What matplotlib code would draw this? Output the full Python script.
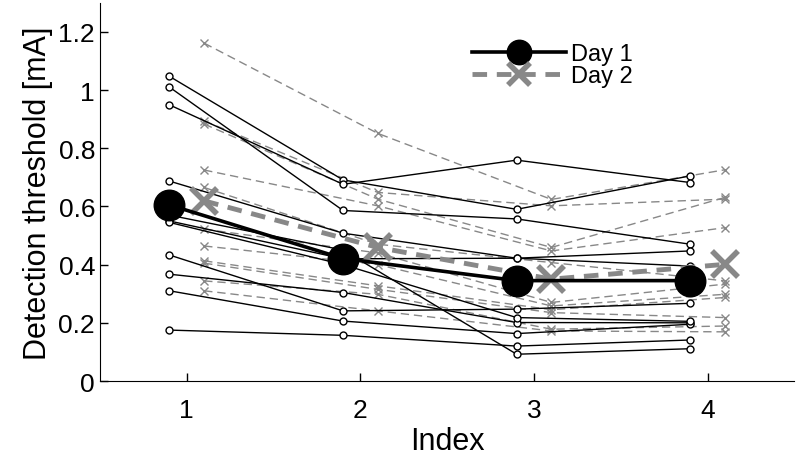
import numpy as np
import matplotlib
matplotlib.use("Agg")
import matplotlib.pyplot as plt

plt.rcParams['font.family'] = ['Liberation Sans', 'DejaVu Sans']

sessions = [1, 2, 3, 4]
tick_labels_y = ['0', '0.2', '0.4', '0.6', '0.8', '1', '1.2']
tick_values_y = [0, 0.2, 0.4, 0.6, 0.8, 1.0, 1.2]

# Day 1, one row per subject (values at sessions 1..4)
day1 = [
    [1.047, 0.691, 0.590, 0.705],
    [0.949, 0.676, 0.759, 0.682],
    [1.010, 0.586, 0.557, 0.470],
    [0.687, 0.508, 0.422, 0.447],
    [0.433, 0.241, 0.247, 0.267],
    [0.367, 0.304, 0.201, 0.200],
    [0.310, 0.206, 0.163, 0.195],
    [0.175, 0.157, 0.120, 0.141],
    [0.570, 0.450, 0.092, 0.111],
    [0.550, 0.420, 0.422, 0.395],
    [0.545, 0.400, 0.218, 0.205],
]

# Day 2, one row per subject
day2 = [
    [1.161, 0.851, 0.624, 0.726],
    [0.894, 0.648, 0.602, 0.625],
    [0.883, 0.625, 0.459, 0.631],
    [0.725, 0.602, 0.447, 0.527],
    [0.665, 0.470, 0.407, 0.344],
    [0.522, 0.440, 0.270, 0.333],
    [0.464, 0.400, 0.258, 0.298],
    [0.413, 0.327, 0.245, 0.287],
    [0.405, 0.315, 0.235, 0.218],
    [0.344, 0.298, 0.178, 0.189],
    [0.310, 0.241, 0.172, 0.169],
]

day1_mean = [0.605, 0.421, 0.345, 0.345]
day2_mean = [0.619, 0.459, 0.350, 0.401]

gray = '#888888'

fig = plt.figure(figsize=(7.96, 4.64), dpi=100)
ax = fig.add_axes([0.1256, 0.1767, 0.8725, 0.8153])

x = np.array(sessions, dtype=float)
x1 = x - 0.1
x2 = x + 0.1

for row in day2:
    ax.plot(x2, row, linestyle=(0, (6, 3.5)), color=gray, lw=1.0,
            marker='x', markersize=6, mew=1.0, zorder=2)
for row in day1:
    ax.plot(x1, row, '-', color='black', lw=1.0,
            marker='o', markersize=5, mfc='white', mec='black', mew=1.0, zorder=3)

ax.plot(x1, day1_mean, '-', color='black', lw=2.6, marker='o', markersize=22,
        mfc='black', mec='black', zorder=5, label='Day 1')
ax.plot(x2, day2_mean, linestyle=(0, (3, 2)), color=gray, lw=3.5, marker='x',
        markersize=19, mew=4, zorder=4, label='Day 2')

ax.set_xlim(0.5, 4.5)
ax.set_ylim(0, 1.3)
ax.set_xticks(sessions)
ax.set_yticks(tick_values_y)
ax.set_yticklabels(tick_labels_y)
ax.tick_params(direction='in', length=6, width=1, labelsize=19)
ax.tick_params(axis='x', pad=12)
ax.spines['top'].set_visible(False)
ax.spines['right'].set_visible(False)
ax.set_xlabel('Index', fontsize=22, labelpad=3)
ax.set_ylabel('Detection threshold [mA]', fontsize=22)

leg = ax.legend(loc='upper left', bbox_to_anchor=(0.505, 0.95), frameon=False,
                fontsize=17, handlelength=4.0, handletextpad=0.2,
                labelspacing=0.0, markerscale=0.8)

fig.savefig('out.png', dpi=100)
